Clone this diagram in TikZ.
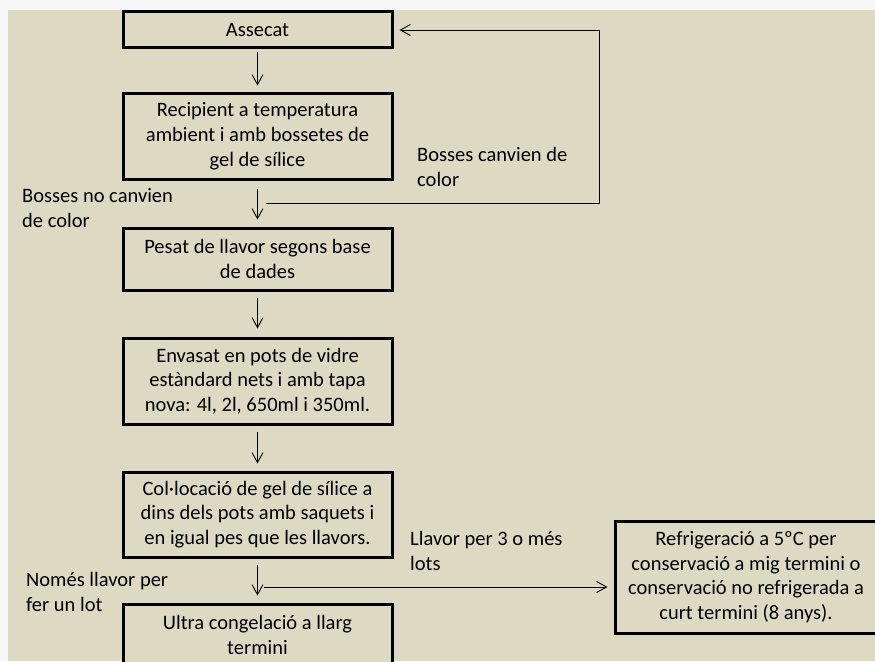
\documentclass[tikz,border=0pt]{standalone}
\usepackage{fontspec}
\setmainfont{Carlito}
\usetikzlibrary{arrows.meta, positioning}
\definecolor{fons}{HTML}{DDD9C3}
\tikzset{
  pas/.style={draw, line width=3pt, fill=fons, minimum width=269pt, align=center, inner sep=0pt, font=\fontsize{20.5}{24.8}\selectfont},
  etiq/.style={align=left, anchor=north west, inner sep=0pt, font=\fontsize{20.5}{24.8}\selectfont},
  fletxa/.style={-{Straight Barb[length=10pt, width=11pt]}, line width=0.9pt},
}

\begin{document}
\begin{tikzpicture}[x=1pt, y=-1pt]
            % Fons de la diapositiva
            \useasboundingbox (0,0) rectangle (875,661);
            \clip (0,0) rectangle (875,661);
            \fill[gray!6] (0,0) rectangle (875,661);
            \fill[fons] (8,10) rectangle (875,661);

            % Passos del proces
            \node[pas, minimum height=36pt] (assecat) at (257.5,30) {Assecat};
            \node[pas, minimum height=86pt] (recipient) at (257.5,136) {Recipient a temperatura\\ambient i amb bossetes de\\gel de sílice};
            \node[pas, minimum height=62pt] (pesat) at (257.5,259) {Pesat de llavor segons base\\de dades};
            \node[pas, minimum height=86pt] (envasat) at (257.5,381) {Envasat en pots de vidre\\estàndard nets i amb tapa\\nova: 4l, 2l, 650ml i 350ml.};
            \node[pas, minimum height=85pt] (collocacio) at (257.5,514.5) {Col·locació de gel de sílice a\\dins dels pots amb saquets i\\en igual pes que les llavors.};
            \node[pas, minimum height=62pt] (ultra) at (257.5,635) {Ultra congelació a llarg\\termini};
            \node[pas, minimum width=262pt, minimum height=112pt] (refrigeracio) at (746,577) {Refrigeració a 5ºC per\\conservació a mig termini o\\conservació  no refrigerada a\\curt termini (8 anys).};

            % Etiquetes
            \node[etiq] (canvien) at (417,147) {Bosses canvien de\\color};
            \node[etiq] (nocanvien) at (22,188.5) {Bosses no canvien\\de color};
            \node[etiq] (treslots) at (410,531) {Llavor per 3 o més\\lots};
            \node[etiq] (unlot) at (26,572.5) {Només llavor per\\fer un lot};

            % Fletxes
            \draw[fletxa, shorten <=2.5pt, shorten >=6pt] (assecat) -- (recipient);
            \draw[fletxa, shorten <=8pt, shorten >=7pt] (recipient) -- (pesat);
            \draw[fletxa, shorten <=6pt, shorten >=8pt] (pesat) -- (envasat);
            \draw[fletxa, shorten <=6pt, shorten >=7pt] (envasat) -- (collocacio);
            \draw[fletxa, shorten <=6pt, shorten >=7pt] (collocacio) -- (ultra);

            \coordinate (retorn) at (266,203);
            \draw[fletxa, shorten >=6pt] (retorn) -| (599,30) -- (assecat.east);

            \coordinate (branca) at (264,587);
            \draw[fletxa, shorten >=6pt] (branca) -- (branca -| refrigeracio.west);
        \end{tikzpicture}
\end{document}
